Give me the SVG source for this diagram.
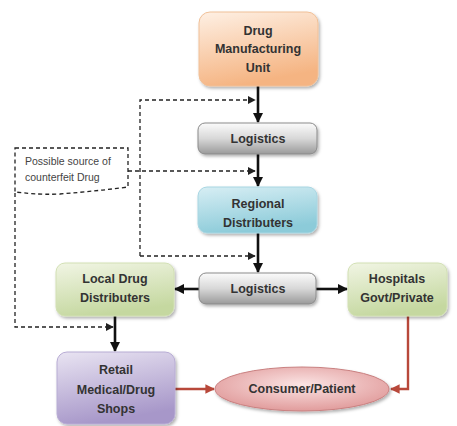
<svg xmlns="http://www.w3.org/2000/svg" width="457" height="426" viewBox="0 0 457 426">
<style>
.t{font-family:"Liberation Sans",Arial,sans-serif;font-weight:bold;font-size:12.5px;fill:#333;text-anchor:middle}
.n{font-family:"Liberation Sans",Arial,sans-serif;font-size:10.5px;fill:#444}
.k{stroke:#111;stroke-width:2.6;fill:none}
.d{stroke:#222;stroke-width:1.3;stroke-dasharray:4,3;fill:none}
.r{stroke:#b8483a;stroke-width:2.4;fill:none}
</style>
<defs>
<marker id="ah" viewBox="0 0 10 10" refX="9" refY="5" markerWidth="4" markerHeight="4" orient="auto" markerUnits="strokeWidth"><path d="M0,0 L10,5 L0,10 z" fill="#111"/></marker>
<marker id="ahs" viewBox="0 0 10 10" refX="9" refY="5" markerWidth="6" markerHeight="6" orient="auto" markerUnits="strokeWidth"><path d="M0,0 L10,5 L0,10 z" fill="#222"/></marker>
<marker id="ahr" viewBox="0 0 10 10" refX="9" refY="5" markerWidth="4" markerHeight="4" orient="auto" markerUnits="strokeWidth"><path d="M0,0 L10,5 L0,10 z" fill="#b8483a"/></marker>
<linearGradient id="gO" x1="0" y1="0" x2="0.3" y2="1"><stop offset="0" stop-color="#fef0e4"/><stop offset="1" stop-color="#f5b482"/></linearGradient>
<linearGradient id="gG" x1="0" y1="0" x2="0" y2="1"><stop offset="0" stop-color="#fbfbfb"/><stop offset="0.5" stop-color="#d8d8d8"/><stop offset="1" stop-color="#9a9a9a"/></linearGradient>
<linearGradient id="gB" x1="0" y1="0" x2="0.3" y2="1"><stop offset="0" stop-color="#d7eef4"/><stop offset="1" stop-color="#8ccbd9"/></linearGradient>
<linearGradient id="gL" x1="0" y1="0" x2="0.3" y2="1"><stop offset="0" stop-color="#f1f5e4"/><stop offset="1" stop-color="#c5d8a0"/></linearGradient>
<linearGradient id="gP" x1="0" y1="0" x2="0.3" y2="1"><stop offset="0" stop-color="#e9e4f2"/><stop offset="1" stop-color="#a797c9"/></linearGradient>
<radialGradient id="gR" cx="0.5" cy="0.4" r="0.6"><stop offset="0" stop-color="#fbe4e4"/><stop offset="1" stop-color="#e19c9c"/></radialGradient>
<filter id="sh" x="-10%" y="-10%" width="125%" height="130%"><feDropShadow dx="1.5" dy="2" stdDeviation="1.5" flood-color="#000" flood-opacity="0.3"/></filter>
</defs>
<rect width="457" height="426" fill="#fff"/>

<g id="connectors">
<line class="k" x1="258" y1="86" x2="258" y2="122" marker-end="url(#ah)"/>
<line class="k" x1="258" y1="154" x2="258" y2="186" marker-end="url(#ah)"/>
<line class="k" x1="258" y1="233" x2="258" y2="272" marker-end="url(#ah)"/>
<line class="k" x1="199" y1="289" x2="175" y2="289" marker-end="url(#ah)"/>
<line class="k" x1="316" y1="289" x2="347" y2="289" marker-end="url(#ah)"/>
<line class="k" x1="115" y1="316" x2="115" y2="351" marker-end="url(#ah)"/>
<line class="r" x1="175" y1="389" x2="214" y2="389" marker-end="url(#ahr)"/>
<polyline class="r" points="408,316 408,389 391,389" marker-end="url(#ahr)"/>
<polyline class="d" points="140,256 140,100 255,100" marker-end="url(#ahs)"/>
<polyline class="d" points="128,171 255,171" marker-end="url(#ahs)"/>
<polyline class="d" points="140,256 255,256" marker-end="url(#ahs)"/>
<polyline class="d" points="15,193 15,327 113,327" marker-end="url(#ahs)"/>
</g>

<g id="callout">
<path class="d" d="M15,148 L128,148 L128,187 C105,190 85,192 60,194 C40,195 25,193 15,192 Z"/>
<text class="n" x="25" y="165">Possible source of</text>
<text class="n" x="25" y="181">counterfeit Drug</text>
</g>

<g id="drug-unit">
<rect x="199" y="12" width="119" height="74" rx="11" fill="url(#gO)" stroke="#f0c098" stroke-width="1" filter="url(#sh)"/>
<text class="t" x="258" y="35">Drug</text>
<text class="t" x="258" y="53">Manufacturing</text>
<text class="t" x="258" y="72">Unit</text>
</g>

<g id="logistics1">
<rect x="198" y="123" width="119" height="31" rx="7" fill="url(#gG)" stroke="#8a8a8a" stroke-width="1" filter="url(#sh)"/>
<text class="t" x="258" y="143">Logistics</text>
</g>

<g id="regional">
<rect x="198" y="187" width="119" height="46" rx="9" fill="url(#gB)" stroke="#a8d6e2" stroke-width="1" filter="url(#sh)"/>
<text class="t" x="258" y="208">Regional</text>
<text class="t" x="258" y="227">Distributers</text>
</g>

<g id="logistics2">
<rect x="199" y="273" width="117" height="31" rx="7" fill="url(#gG)" stroke="#8a8a8a" stroke-width="1" filter="url(#sh)"/>
<text class="t" x="258" y="293">Logistics</text>
</g>

<g id="local">
<rect x="56" y="263" width="118" height="53" rx="9" fill="url(#gL)" stroke="#d2e0b4" stroke-width="1" filter="url(#sh)"/>
<text class="t" x="115" y="283">Local Drug</text>
<text class="t" x="115" y="302">Distributers</text>
</g>

<g id="hospitals">
<rect x="348" y="263" width="99" height="53" rx="9" fill="url(#gL)" stroke="#d2e0b4" stroke-width="1" filter="url(#sh)"/>
<text class="t" x="397" y="283">Hospitals</text>
<text class="t" x="397" y="302">Govt/Private</text>
</g>

<g id="retail">
<rect x="57" y="352" width="118" height="72" rx="10" fill="url(#gP)" stroke="#b8acd4" stroke-width="1" filter="url(#sh)"/>
<text class="t" x="116" y="374">Retail</text>
<text class="t" x="116" y="394">Medical/Drug</text>
<text class="t" x="116" y="413">Shops</text>
</g>

<g id="consumer">
<ellipse cx="302" cy="389" rx="87" ry="22" fill="url(#gR)" stroke="#c98080" stroke-width="1" filter="url(#sh)"/>
<text class="t" x="302" y="393">Consumer/Patient</text>
</g>
</svg>
